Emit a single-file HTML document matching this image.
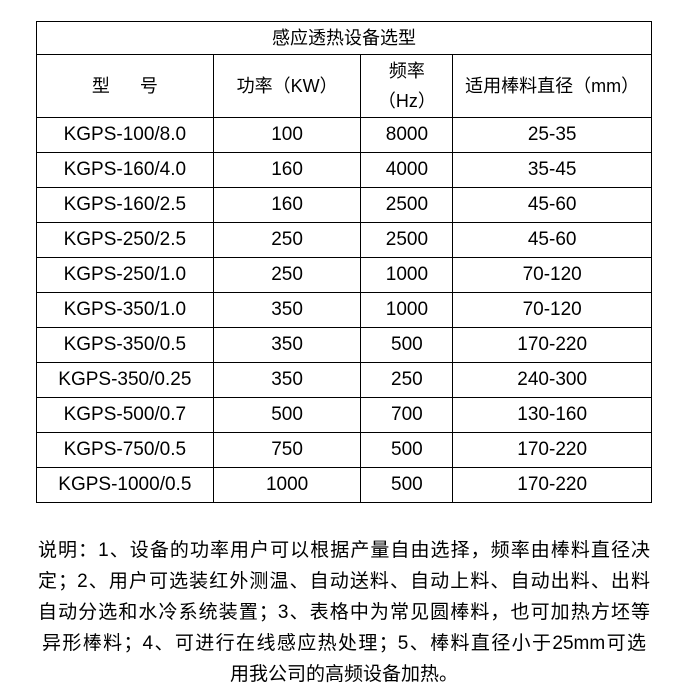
<!DOCTYPE html>
<html><head><meta charset="utf-8"><style>
body{margin:0;width:700px;height:700px;background:#fff;font-family:"Liberation Sans","Noto Sans CJK SC",sans-serif;color:#000;position:relative;overflow:hidden}
table{position:absolute;left:36px;top:21px;border-collapse:collapse;width:616px;}
td{border:1.5px solid #000;text-align:center;font-size:19px;padding:0;height:34px;line-height:20px}
.t td{height:32px;font-size:18px}
.h td{height:62px;font-size:18px}
.n{position:absolute;left:38px;top:535px;width:612px;font-size:19px;line-height:31px}
.n div{text-align:justify;text-align-last:justify;white-space:nowrap}
.n div.c{text-align:center;text-align-last:center}
</style></head><body>
<table>
<colgroup><col style="width:177px"><col style="width:148px"><col style="width:92px"><col style="width:199px"></colgroup>
<tr class="t"><td colspan="4">感应透热设备选型</td></tr>
<tr class="h"><td>型&nbsp;&nbsp;&nbsp;&nbsp;&nbsp;&nbsp;号</td><td>功率（KW）</td><td style="line-height:30px">频率<br>（Hz）</td><td>适用棒料直径（mm）</td></tr>
<tr><td>KGPS-100/8.0</td><td>100</td><td>8000</td><td>25-35</td></tr>
<tr><td>KGPS-160/4.0</td><td>160</td><td>4000</td><td>35-45</td></tr>
<tr><td>KGPS-160/2.5</td><td>160</td><td>2500</td><td>45-60</td></tr>
<tr><td>KGPS-250/2.5</td><td>250</td><td>2500</td><td>45-60</td></tr>
<tr><td>KGPS-250/1.0</td><td>250</td><td>1000</td><td>70-120</td></tr>
<tr><td>KGPS-350/1.0</td><td>350</td><td>1000</td><td>70-120</td></tr>
<tr><td>KGPS-350/0.5</td><td>350</td><td>500</td><td>170-220</td></tr>
<tr><td>KGPS-350/0.25</td><td>350</td><td>250</td><td>240-300</td></tr>
<tr><td>KGPS-500/0.7</td><td>500</td><td>700</td><td>130-160</td></tr>
<tr><td>KGPS-750/0.5</td><td>750</td><td>500</td><td>170-220</td></tr>
<tr><td>KGPS-1000/0.5</td><td>1000</td><td>500</td><td>170-220</td></tr>
</table>
<div class="n">
<div>说明：1、设备的功率用户可以根据产量自由选择，频率由棒料直径决</div>
<div>定；2、用户可选装红外测温、自动送料、自动上料、自动出料、出料</div>
<div>自动分选和水冷系统装置；3、表格中为常见圆棒料，也可加热方坯等</div>
<div style="margin:0 4px">异形棒料；4、可进行在线感应热处理；5、棒料直径小于25mm可选</div>
<div class="c">用我公司的高频设备加热。</div>
</div>
</body></html>
